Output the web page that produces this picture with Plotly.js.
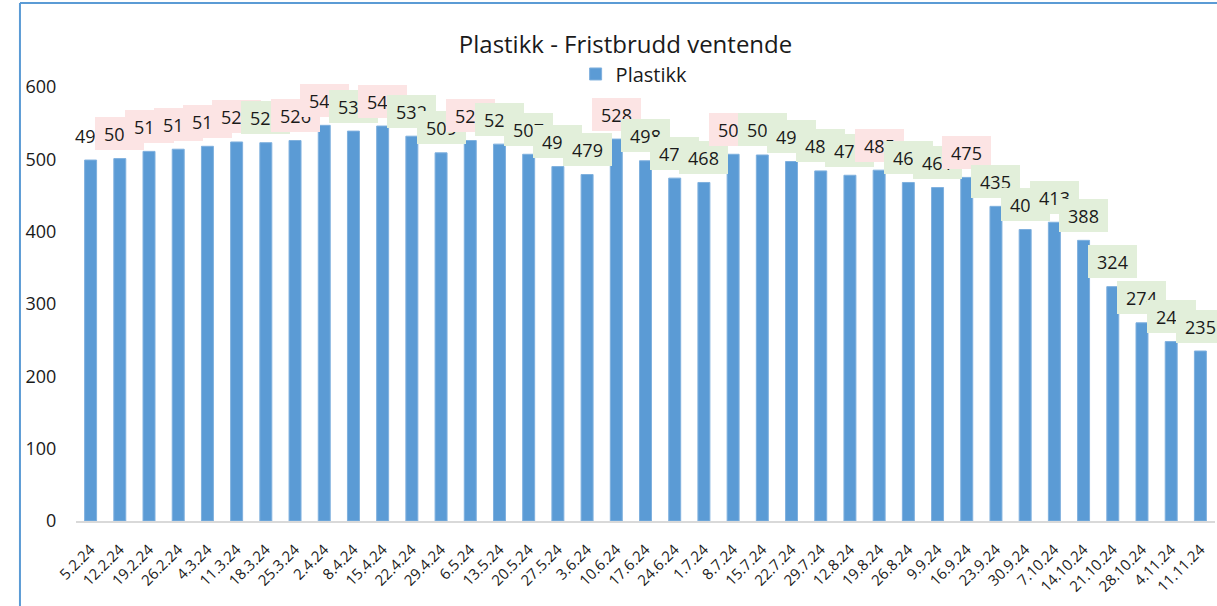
<!DOCTYPE html>
<html>
<head>
<meta charset="utf-8">
<script src="https://cdn.plot.ly/plotly-3.0.1.min.js"></script>
<style>
html,body{margin:0;padding:0;background:#fff;}
#chart{width:1217px;height:606px;}
</style>
</head>
<body>
<div id="chart"></div>
<script>
const categories = ["5.2.24","12.2.24","19.2.24","26.2.24","4.3.24","11.3.24","18.3.24","25.3.24","2.4.24","8.4.24","15.4.24","22.4.24","29.4.24","6.5.24","13.5.24","20.5.24","27.5.24","3.6.24","10.6.24","17.6.24","24.6.24","1.7.24","8.7.24","15.7.24","22.7.24","29.7.24","12.8.24","19.8.24","26.8.24","9.9.24","16.9.24","23.9.24","30.9.24","7.10.24","14.10.24","21.10.24","28.10.24","4.11.24","11.11.24"];
const values = [499,501,511,514,518,524,523,526,547,539,546,532,509,526,521,507,490,479,528,498,474,468,507,506,497,484,478,485,468,461,475,435,403,413,388,324,274,248,235];
// label background: "n" none, "u" up (pink), "d" down (green)
const labelKinds = ["n","u","u","u","u","u","d","u","u","d","u","d","d","u","d","d","d","d","u","d","d","d","u","d","d","d","d","u","d","d","u","d","d","d","d","d","d","d","d"];
const seriesName = "Plastikk";
const chartTitle = "Plastikk - Fristbrudd ventende";

const kindColor = {n:"rgba(0,0,0,0)", u:"#fce4e4", d:"#e2efda"};
const FONT = "Open Sans, Noto Sans, sans-serif";

const annotations = categories.map((c,i)=>({
  x: c, y: values[i], xref:"x", yref:"y",
  text: String(values[i]), showarrow:false,
  xanchor:"center", yanchor:"middle", yshift:25,
  width:49, height:33, borderpad:0, borderwidth:0,
  bgcolor: kindColor[labelKinds[i]],
  font:{family:FONT, size:18, color:"#1a1a1a"}
}));

const trace = {
  type:"bar", x:categories, y:values, name:seriesName,
  marker:{color:"#5b9bd5", line:{color:"#7fb0de", width:1}},
  hoverinfo:"x+y"
};

const layout = {
  width:1217, height:606,
  margin:{l:76, r:2, t:87, b:85},
  paper_bgcolor:"#fff", plot_bgcolor:"#fff",
  font:{family:FONT, color:"#1a1a1a"},
  title:{text:chartTitle, x:0.514, xanchor:"center", y:0.927, yanchor:"middle",
         font:{family:FONT, size:24, color:"#1a1a1a"}},
  showlegend:true,
  legend:{orientation:"h", x:0.49, xanchor:"center", y:1.03, yanchor:"middle",
          font:{family:FONT, size:20, color:"#1a1a1a"}, bgcolor:"rgba(0,0,0,0)"},
  bargap:0.59,
  xaxis:{type:"category", showgrid:false, showline:true, linecolor:"#d9d9d9", linewidth:2,
         tickangle:-45, ticks:"outside", ticklen:12, tickcolor:"rgba(0,0,0,0)",
         tickfont:{family:FONT, size:15, color:"#1a1a1a"}, zeroline:false,
         range:[-0.5, categories.length-0.5]},
  yaxis:{range:[0,600], dtick:100, showgrid:false, showline:false, zeroline:false,
         ticks:"outside", ticklen:15, tickcolor:"rgba(0,0,0,0)",
         tickfont:{family:FONT, size:18, color:"#1a1a1a"}},
  annotations:annotations,
  shapes:[
    {type:"line", xref:"paper", yref:"paper", x0:-0.0492, x1:-0.0492, y0:-0.25, y1:1.1935,
     line:{color:"#5b9bd5", width:2}, layer:"above"},
    {type:"line", xref:"paper", yref:"paper", x0:-0.0492, x1:1.01, y0:1.1935, y1:1.1935,
     line:{color:"#5b9bd5", width:2}, layer:"above"}
  ]
};

Plotly.newPlot("chart", [trace], layout, {displayModeBar:false, staticPlot:true});
</script>
</body>
</html>
